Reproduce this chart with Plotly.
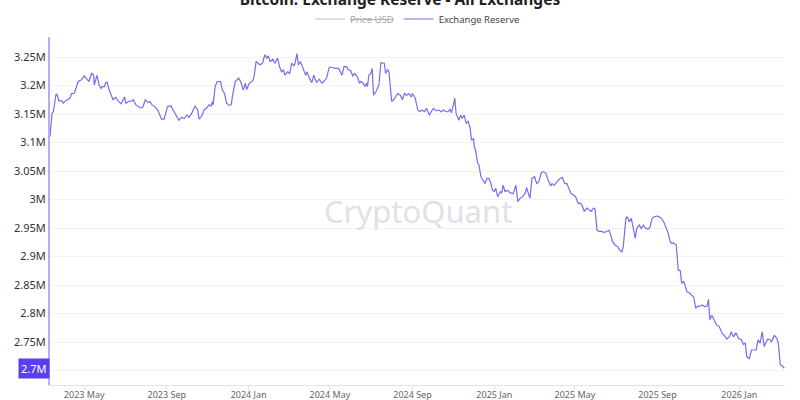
import pandas as pd
import plotly.graph_objects as go

# ---------------- data ----------------
start_date = "2023-03-11"
day_offsets = [
    0, 3, 5, 9, 11, 13, 17, 20, 23, 30, 32, 36, 39, 42, 47, 51, 55, 58, 62, 65,
    66, 70, 73, 76, 78, 81, 83, 85, 88, 92, 94, 98, 102, 106, 111, 113, 117, 122, 124, 128,
    134, 138, 142, 146, 149, 152, 156, 161, 166, 170, 175, 180, 184, 187, 192, 196, 200, 204, 207, 211,
    216, 220, 222, 226, 230, 233, 237, 240, 242, 243, 246, 249, 254, 257, 260, 263, 267, 270, 272, 276,
    281, 284, 288, 291, 293, 297, 302, 304, 307, 310, 313, 317, 320, 323, 325, 328, 332, 335, 339, 342,
    345, 348, 350, 354, 357, 360, 364, 368, 370, 373, 375, 379, 381, 383, 386, 390, 393, 397, 401, 405,
    408, 412, 416, 420, 425, 430, 432, 435, 438, 442, 444, 448, 451, 454, 458, 461, 463, 467, 469, 472,
    473, 475, 478, 480, 482, 484, 487, 490, 493, 498, 500, 503, 505, 509, 512, 515, 518, 522, 525, 528,
    531, 535, 538, 540, 544, 548, 551, 554, 558, 561, 565, 568, 571, 575, 579, 583, 586, 590, 593, 596,
    598, 601, 603, 605, 607, 609, 612, 614, 617, 620, 623, 626, 628, 631, 632, 634, 637, 639, 642, 646,
    648, 651, 654, 657, 659, 662, 664, 667, 671, 673, 675, 678, 681, 683, 685, 690, 694, 697, 700, 704,
    708, 710, 713, 715, 718, 722, 725, 728, 732, 735, 739, 742, 746, 748, 751, 755, 760, 763, 767, 770,
    773, 776, 780, 783, 787, 790, 793, 796, 800, 803, 806, 810, 812, 815, 818, 822, 826, 829, 833, 836,
    838, 842, 846, 849, 852, 854, 858, 860, 863, 866, 868, 872, 874, 878, 881, 884, 887, 891, 894, 897,
    901, 904, 907, 911, 915, 919, 921, 924, 926, 929, 933, 936, 939, 941, 944, 946, 949, 952, 956, 959,
    962, 965, 969, 972, 975, 979, 981, 983, 986, 990, 993, 997, 1001, 1005, 1008, 1012, 1015, 1018, 1022, 1026,
    1030, 1033, 1036, 1038, 1042, 1045, 1048, 1052, 1055, 1058, 1061, 1064, 1066, 1069, 1073, 1075, 1079, 1083, 1085, 1088,
    1091, 1094,
]
reserve_millions = [
    3.110, 3.151, 3.154, 3.185, 3.183, 3.173, 3.173, 3.169, 3.173, 3.178, 3.186, 3.186, 3.196, 3.207, 3.210, 3.217, 3.211, 3.207, 3.222, 3.218,
    3.201, 3.218, 3.201, 3.195, 3.198, 3.198, 3.205, 3.206, 3.193, 3.183, 3.175, 3.179, 3.172, 3.168, 3.180, 3.169, 3.172, 3.173, 3.175, 3.166,
    3.161, 3.161, 3.175, 3.170, 3.172, 3.166, 3.163, 3.156, 3.141, 3.141, 3.163, 3.164, 3.156, 3.151, 3.139, 3.144, 3.142, 3.148, 3.144, 3.151,
    3.164, 3.157, 3.141, 3.146, 3.158, 3.160, 3.166, 3.164, 3.172, 3.166, 3.198, 3.207, 3.207, 3.192, 3.186, 3.169, 3.165, 3.166, 3.183, 3.207,
    3.213, 3.207, 3.192, 3.204, 3.193, 3.204, 3.208, 3.215, 3.242, 3.239, 3.236, 3.240, 3.254, 3.248, 3.252, 3.242, 3.246, 3.239, 3.248, 3.233,
    3.224, 3.227, 3.218, 3.224, 3.221, 3.239, 3.234, 3.256, 3.236, 3.242, 3.236, 3.224, 3.218, 3.224, 3.214, 3.205, 3.218, 3.205, 3.211, 3.204,
    3.207, 3.213, 3.232, 3.232, 3.230, 3.230, 3.224, 3.218, 3.233, 3.233, 3.228, 3.226, 3.217, 3.221, 3.215, 3.204, 3.207, 3.204, 3.198, 3.204,
    3.198, 3.218, 3.221, 3.230, 3.183, 3.186, 3.193, 3.201, 3.240, 3.239, 3.221, 3.228, 3.224, 3.172, 3.175, 3.180, 3.186, 3.183, 3.175, 3.186,
    3.183, 3.186, 3.180, 3.186, 3.178, 3.157, 3.154, 3.157, 3.154, 3.160, 3.148, 3.154, 3.160, 3.156, 3.157, 3.154, 3.157, 3.154, 3.154, 3.158,
    3.152, 3.166, 3.178, 3.151, 3.145, 3.139, 3.148, 3.142, 3.148, 3.134, 3.137, 3.125, 3.104, 3.107, 3.093, 3.087, 3.064, 3.061, 3.040, 3.031,
    3.028, 3.037, 3.037, 3.028, 3.017, 3.014, 3.020, 3.005, 3.014, 3.011, 3.025, 3.014, 3.016, 3.015, 3.012, 3.010, 3.025, 2.996, 3.002, 3.005,
    3.011, 3.021, 3.011, 3.002, 3.037, 3.040, 3.028, 3.031, 3.047, 3.049, 3.046, 3.034, 3.024, 3.028, 3.025, 3.031, 3.037, 3.039, 3.028, 3.028,
    3.020, 3.011, 3.008, 3.005, 2.993, 2.994, 2.989, 2.979, 2.985, 2.982, 2.979, 2.985, 2.983, 2.946, 2.944, 2.944, 2.942, 2.944, 2.946, 2.935,
    2.926, 2.920, 2.917, 2.911, 2.908, 2.917, 2.967, 2.970, 2.961, 2.967, 2.955, 2.932, 2.949, 2.955, 2.949, 2.955, 2.950, 2.948, 2.952, 2.967,
    2.970, 2.971, 2.970, 2.967, 2.959, 2.945, 2.941, 2.926, 2.923, 2.924, 2.920, 2.876, 2.875, 2.853, 2.856, 2.850, 2.838, 2.837, 2.832, 2.829,
    2.809, 2.813, 2.813, 2.815, 2.812, 2.813, 2.825, 2.789, 2.797, 2.787, 2.780, 2.777, 2.766, 2.761, 2.755, 2.759, 2.768, 2.759, 2.766, 2.756,
    2.754, 2.746, 2.748, 2.724, 2.721, 2.736, 2.736, 2.736, 2.754, 2.748, 2.768, 2.742, 2.748, 2.755, 2.754, 2.750, 2.762, 2.756, 2.748, 2.710,
    2.708, 2.704,
]
price_usd = [None]  # hidden series (struck through in the legend)

title_text = "Bitcoin: Exchange Reserve - All Exchanges"
series_names = ["Price USD", "Exchange Reserve"]
x_range = ["2023-03-11", "2026-03-10"]
y_range = [2674600, 3285100]

# ---------------- build ----------------
dates = pd.to_datetime(start_date) + pd.to_timedelta(day_offsets, unit="D")
reserve = [v * 1e6 for v in reserve_millions]

LINE = "#7b6af0"
FONT = "Noto Sans, Open Sans, sans-serif"

fig = go.Figure()
fig.add_trace(go.Scatter(
    x=[dates[0]], y=price_usd, mode="lines",
    name='<span style="color:#a8a8a8"><s>' + series_names[0] + "</s></span>",
    line=dict(color="#d4d4d4", width=1.5),
))
fig.add_trace(go.Scatter(
    x=dates, y=reserve, mode="lines", name=series_names[1],
    line=dict(color=LINE, width=1.2),
))

fig.update_layout(
    width=800, height=400,
    margin=dict(l=50, r=15, t=37, b=15, autoexpand=False),
    paper_bgcolor="white", plot_bgcolor="white",
    font=dict(family=FONT, color="#444", size=10),
    title=dict(text="<b>" + title_text + "</b>", x=0.5, xanchor="center",
               y=1.0, yref="container", yanchor="middle",
               font=dict(size=15.5, color="#222", family=FONT)),
    legend=dict(orientation="h", x=0.5, xanchor="center", y=0.9525, yref="container",
                yanchor="middle", font=dict(size=9.5, color="#444"),
                itemwidth=30, bgcolor="rgba(0,0,0,0)"),
    showlegend=True,
)
fig.update_xaxes(
    range=x_range, type="date", tick0="2023-01-01", dtick="M4", tickformat="%Y %b",
    showgrid=False, showline=True, linecolor="#e3e3e3", linewidth=1,
    ticks="outside", ticklen=4, tickcolor="#e3e3e3", ticklabelstandoff=-3,
    tickfont=dict(size=9, color="#666"), zeroline=False, automargin=False,
)
fig.update_yaxes(
    range=y_range, tick0=2700000, dtick=50000, tickformat="~s",
    showgrid=True, gridcolor="#f2f2f2", gridwidth=1,
    showline=True, linecolor="#b7acf7", linewidth=2,
    ticks="", tickfont=dict(size=11, color="#333"), zeroline=False, automargin=False,
)

# watermark
fig.add_annotation(text="CryptoQuant", x=0.5, y=0.5, xref="paper", yref="paper",
                   xanchor="center", yanchor="middle", showarrow=False,
                   font=dict(size=31, color="#e1e1e8", family=FONT))
# last-value marker on the y axis
fig.add_annotation(text="2.7M", x=0, xref="paper", y=reserve[-1], yref="y",
                   xanchor="right", yanchor="middle", showarrow=False,
                   bgcolor="#5a3ff0", font=dict(size=11, color="white", family=FONT),
                   borderpad=2)

fig.write_html("out.html", config={"displayModeBar": False},
               post_script="document.body.style.margin='0';document.body.style.overflow='hidden';")
